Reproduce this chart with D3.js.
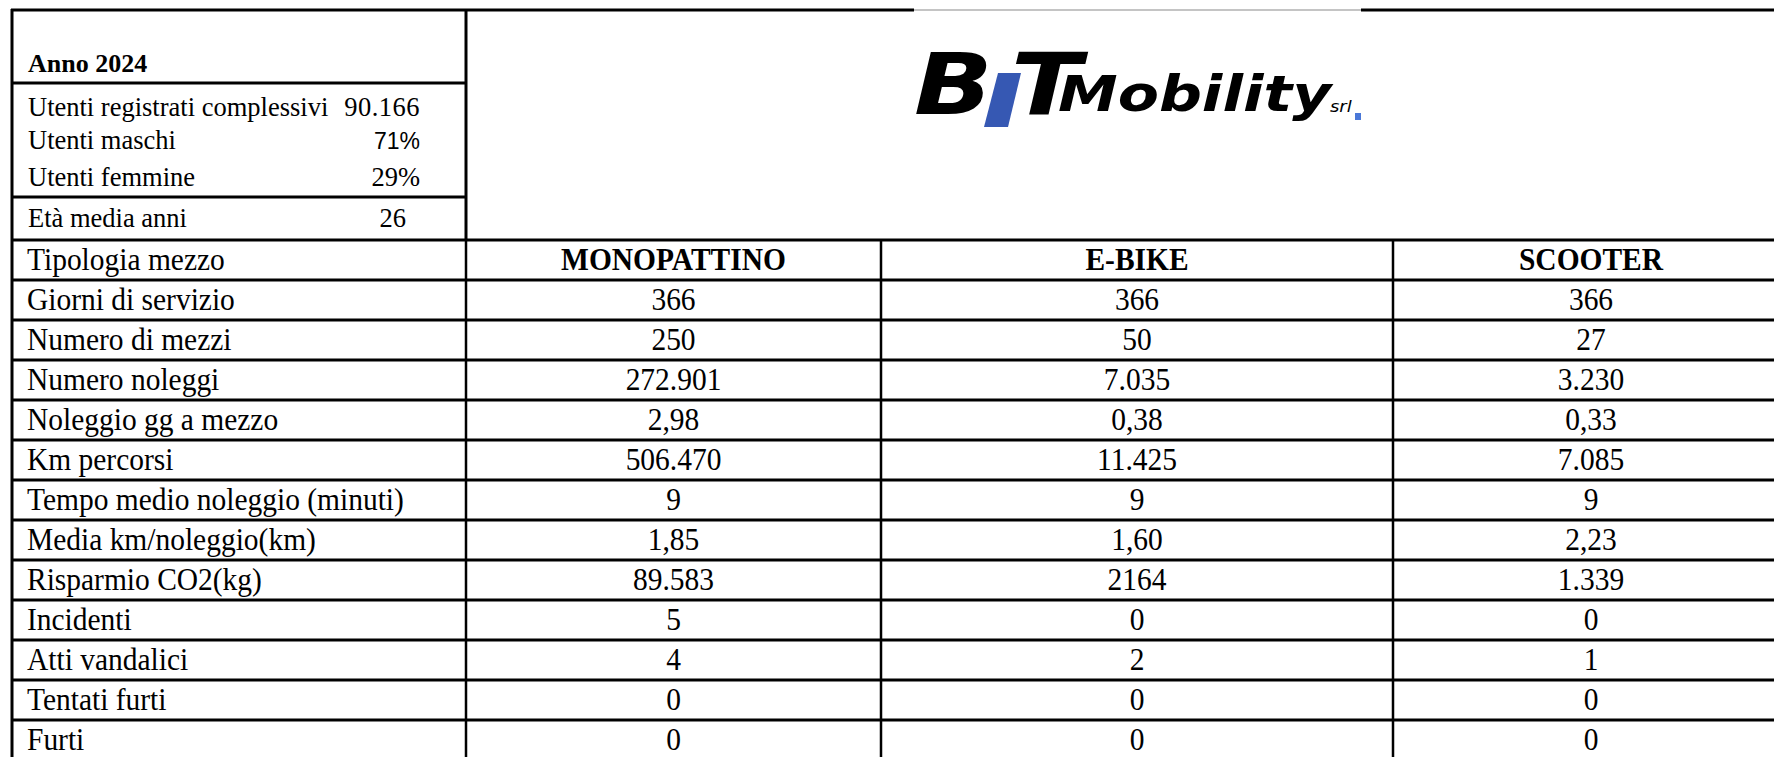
<!DOCTYPE html>
<html>
<head>
<meta charset="utf-8">
<script src="https://cdn.jsdelivr.net/npm/d3@7"></script>
<style>
  body { margin: 0; background: #fff; }
  svg { display: block; }
</style>
</head>
<body>
<div id="chart"></div>
<script>
// summary block (top left)
let yearLabel = 'Anno 2024'
let summaryLabels = ['Utenti registrati complessivi', 'Utenti maschi', 'Utenti femmine', 'Età media anni']
let summaryValues = ['90.166', '71%', '29%', '26']

// main table
let headerLabel = 'Tipologia mezzo'
let categories = ['MONOPATTINO', 'E-BIKE', 'SCOOTER']
let rowLabels = [
  'Giorni di servizio',
  'Numero di mezzi',
  'Numero noleggi',
  'Noleggio gg a mezzo',
  'Km percorsi',
  'Tempo medio noleggio (minuti)',
  'Media km/noleggio(km)',
  'Risparmio CO2(kg)',
  'Incidenti',
  'Atti vandalici',
  'Tentati furti',
  'Furti'
]
let monopattino = ['366', '250', '272.901', '2,98', '506.470', '9', '1,85', '89.583', '5', '4', '0', '0']
let ebike = ['366', '50', '7.035', '0,38', '11.425', '9', '1,60', '2164', '0', '2', '0', '0']
let scooter = ['366', '27', '3.230', '0,33', '7.085', '9', '2,23', '1.339', '0', '1', '0', '0']

let width = 1774
let height = 757

let svg = d3
  .select('#chart')
  .append('svg')
  .attr('width', width)
  .attr('height', height)

let serif = '"Liberation Serif", "Times New Roman", serif'

// column edges of the big table (last one runs past the page)
let colX = d3.scaleOrdinal()
  .domain(['label', ...categories, 'end'])
  .range([12, 466, 881, 1393, 1789])
let nextCol = { label: categories[0], [categories[0]]: categories[1], [categories[1]]: categories[2], [categories[2]]: 'end' }
let colCenter = c => (colX(c) + colX(nextCol[c])) / 2

// rows: header + data rows
let rowY = d3.scaleLinear()
  .domain([0, rowLabels.length + 1])
  .range([240, 240 + 40 * (rowLabels.length + 1)])

// measure condensed width of table text
let probe = svg.append('text')
  .attr('font-family', serif)
  .attr('font-size', 31)
  .text('Tempo medio noleggio (minuti)')
let sx = 377 / probe.node().getComputedTextLength()
probe.remove()

function cellText(x, y, str, anchor, bold) {
  svg.append('g')
    .attr('transform', `translate(${x}, ${y}) scale(${sx}, 1)`)
    .append('text')
    .attr('font-family', serif)
    .attr('font-size', 31)
    .attr('font-weight', bold ? 'bold' : 'normal')
    .attr('text-anchor', anchor)
    .attr('fill', '#000')
    .text(str)
}

// header row
cellText(27, rowY(0) + 30, headerLabel, 'start', false)
categories.forEach(c => cellText(colCenter(c), rowY(0) + 30, c, 'middle', true))

// data rows
let series = [monopattino, ebike, scooter]
rowLabels.forEach((label, i) => {
  let y = rowY(i + 1) + 30
  cellText(27, y, label, 'start', false)
  series.forEach((vals, j) => cellText(colCenter(categories[j]), y, vals[i], 'middle', false))
})

// grid lines
let lines = svg.append('g').attr('stroke', '#000')
d3.range(0, rowLabels.length + 1).forEach(i => {
  lines.append('line')
    .attr('x1', 11).attr('x2', width)
    .attr('y1', rowY(i)).attr('y2', rowY(i))
    .attr('stroke-width', 3)
})
categories.forEach(c => {
  lines.append('line')
    .attr('x1', colX(c)).attr('x2', colX(c))
    .attr('y1', rowY(0)).attr('y2', height)
    .attr('stroke-width', 2.5)
})
// left border and divider running up to the top
lines.append('line').attr('x1', 12).attr('x2', 12).attr('y1', 9).attr('y2', height).attr('stroke-width', 3)
lines.append('line').attr('x1', 466).attr('x2', 466).attr('y1', 9).attr('y2', rowY(0)).attr('stroke-width', 3)
// summary separators
lines.append('line').attr('x1', 12).attr('x2', 466).attr('y1', 83).attr('y2', 83).attr('stroke-width', 3)
lines.append('line').attr('x1', 12).attr('x2', 466).attr('y1', 197).attr('y2', 197).attr('stroke-width', 3)
// top border: thick, with a thin grey gap above the logo
lines.append('line').attr('x1', 11).attr('x2', 914).attr('y1', 10).attr('y2', 10).attr('stroke-width', 3)
lines.append('line').attr('x1', 914).attr('x2', 1361).attr('y1', 10).attr('y2', 10)
  .attr('stroke', '#8a8a8a').attr('stroke-width', 1.2)
lines.append('line').attr('x1', 1361).attr('x2', width).attr('y1', 10).attr('y2', 10).attr('stroke-width', 3)

// summary block
svg.append('text')
  .attr('x', 28).attr('y', 72)
  .attr('font-family', serif).attr('font-size', 26).attr('font-weight', 'bold')
  .text(yearLabel)

let summaryY = [116, 149, 186, 227]
summaryLabels.forEach((label, i) => {
  svg.append('text')
    .attr('x', 28).attr('y', summaryY[i])
    .attr('font-family', serif).attr('font-size', 26.5)
    .text(label)
  svg.append('text')
    .attr('x', i === 3 ? 406 : 420).attr('y', summaryY[i])
    .attr('text-anchor', 'end')
    .attr('font-family', i === 1 ? '"Liberation Sans", Arial, sans-serif' : serif)
    .attr('font-size', i === 1 ? 23 : 26.5)
    .attr('letter-spacing', i === 0 ? 0.5 : 0)
    .text(summaryValues[i])
})

// logo: one stretched text with the blue bar drawn between B and T
let logoFont = '"DejaVu Sans", sans-serif'
let logoScale = 1.2
let lx = v => (v - 914) / logoScale
svg.append('polygon')
  .attr('points', '984,127 1008,127 1021,73 998,73')
  .attr('fill', '#3658b3')
let logo = svg.append('text')
  .attr('transform', `translate(914, 0) scale(${logoScale}, 1)`)
  .attr('font-family', logoFont)
  .attr('font-weight', 'bold')
  .attr('font-style', 'oblique')
logo.append('tspan').attr('x', lx(914)).attr('y', 114).attr('font-size', 86).text('B')
logo.append('tspan').attr('x', lx(1011)).attr('y', 114).attr('font-size', 86).text('T')
logo.append('tspan').attr('x', lx(1058)).attr('y', 111).attr('font-size', 50).text('Mobility')
logo.append('tspan').attr('x', lx(1330)).attr('y', 112).attr('font-size', 15)
  .attr('font-weight', 'normal').text('srl')
svg.append('rect')
  .attr('x', 1355).attr('y', 113).attr('width', 6).attr('height', 7)
  .attr('fill', '#4a78d8')
</script>
</body>
</html>
